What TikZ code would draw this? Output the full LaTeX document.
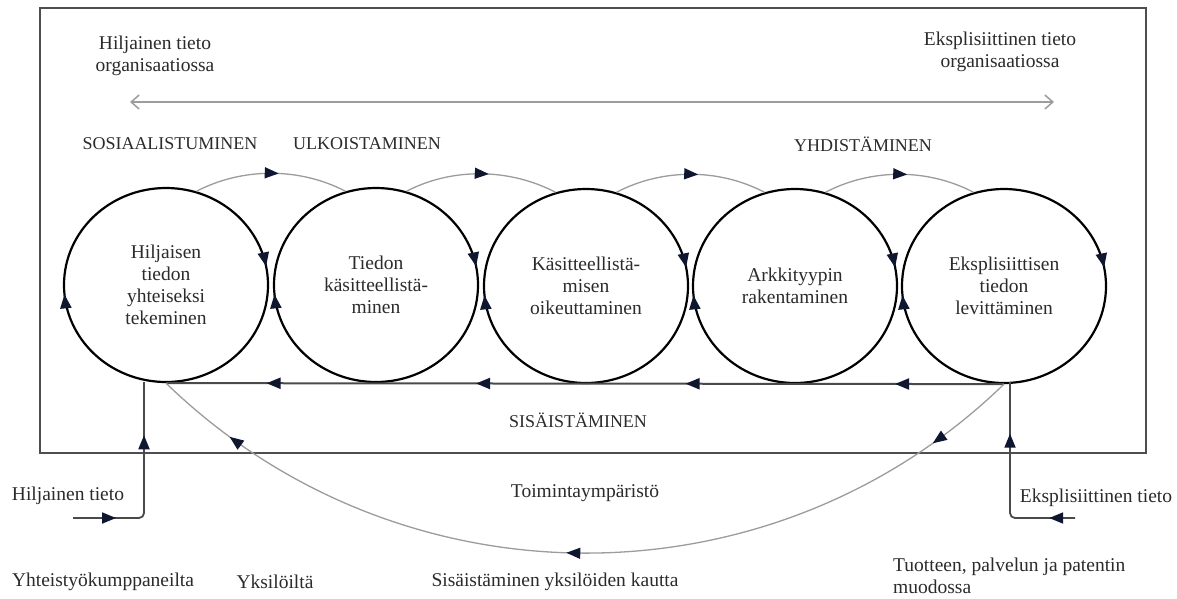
\documentclass[tikz,border=0pt]{standalone}
\usepackage{fontspec}
\setmainfont{Liberation Serif}
\usetikzlibrary{arrows.meta,shapes.geometric,decorations.markings,calc}

\definecolor{ink}{HTML}{2B2B2B}
\definecolor{tipc}{HTML}{0E1630}
\definecolor{framec}{HTML}{4E4E4E}
\definecolor{lightline}{HTML}{9C9C9C}
\definecolor{darkline}{HTML}{4A4A4A}

\tikzset{
  tipfill/.tip={Triangle[length=14pt,width=11pt,color=tipc]},
  txt/.style={text=ink,font=\fontsize{19.5}{22}\selectfont,align=center,inner sep=0pt},
  caps/.style={text=ink,font=\fontsize{18}{22}\selectfont,inner sep=0pt},
  % one phase of the knowledge spiral, turning clockwise
  phase/.style={ellipse,draw=black,line width=2.2pt,minimum width=204pt,
    minimum height=194pt,inner sep=0pt,txt,
    postaction={decorate,decoration={markings,
      mark=at position 0.030 with {\arrowreversed{tipfill}},
      mark=at position 0.515 with {\arrowreversed{tipfill}}}}},
  bridge/.style={draw=lightline,line width=1.3pt,
    postaction={decorate,decoration={markings,
      mark=at position 0.55 with {\arrow{tipfill}}}}},
  innerline/.style={draw=darkline,line width=2pt,
    postaction={decorate,decoration={markings,
      mark=at position 0.13 with {\arrow{tipfill}},
      mark=at position 0.38 with {\arrow{tipfill}},
      mark=at position 0.63 with {\arrow{tipfill}},
      mark=at position 0.88 with {\arrow{tipfill}}}}},
  outerloop/.style={draw=lightline,line width=1.3pt,
    postaction={decorate,decoration={markings,
      mark=at position 0.10 with {\arrow{tipfill}},
      mark=at position 0.52 with {\arrow{tipfill}},
      mark=at position 0.91 with {\arrow{tipfill}}}}},
  feed/.style={draw=darkline,line width=1.8pt,rounded corners=5pt,
    postaction={decorate,decoration={markings,
      mark=at position #1 with {\arrow{tipfill}},
      mark=at position 0.74 with {\arrow{tipfill}}}}},
}

\begin{document}
\begin{tikzpicture}[x=1pt,y=-1pt]
\useasboundingbox[fill=white] (0,0) rectangle (1177,598);

% organisation boundary
\draw[draw=framec,line width=2.2pt] (40,8) rectangle (1146,453);

% tacit <-> explicit axis
\coordinate (axl) at (130,102);
\coordinate (axr) at (1054,102);
\draw[draw=lightline,line width=1.5pt,
  {Straight Barb[length=8pt,width=14pt]}-{Straight Barb[length=8pt,width=14pt]}]
  (axl) -- (axr);

\node[txt] (tacit) at (155,56) {Hiljainen tieto\\organisaatiossa};
\node[txt] (explicit) at (1000,52) {Eksplisiittinen tieto\\organisaatiossa};

\node[caps] (soc) at (170,144) {SOSIAALISTUMINEN};
\node[caps] (ext) at (367,144) {ULKOISTAMINEN};
\node[caps] (comb) at (863,144) {YHDISTÄMINEN};

% the five phases
\node[phase] (c1) at (166,285) {Hiljaisen\\tiedon\\yhteiseksi\\tekeminen};
\node[phase] (c2) at (376,285) {Tiedon\\käsitteellistä-\\minen};
\node[phase] (c3) at (586,286) {Käsitteellistä-\\misen\\oikeuttaminen};
\node[phase] (c4) at (795,286) {Arkkityypin\\rakentaminen};
\node[phase] (c5) at (1004,286) {Eksplisiittisen\\tiedon\\levittäminen};

% transfers between phases
\draw[bridge] (c1.72) .. controls +(46,-24) and +(-46,-24) .. (c2.108);
\draw[bridge] (c2.72) .. controls +(46,-24) and +(-46,-24) .. (c3.108);
\draw[bridge] (c3.72) .. controls +(46,-24) and +(-46,-24) .. (c4.108);
\draw[bridge] (c4.72) .. controls +(46,-24) and +(-46,-24) .. (c5.108);

% internalisation back along the base
\draw[innerline] (c5.south) -- (c1.south);
\node[caps] (int) at (578,420) {SISÄISTÄMINEN};

% loop through the environment
\draw[outerloop] (c5.south) .. controls +(-233,226) and +(233,226) .. (c1.south);
\node[txt] (env) at (585,493) {Toimintaympäristö};
\node[txt] (indiv) at (555,582) {Sisäistäminen yksilöiden kautta};

% inputs from outside
\coordinate (hin) at (73,518);
\coordinate (hx) at (144,382);
\draw[feed=0.21] (hin) -| (hx);
\coordinate (ein) at (1075,518);
\coordinate (ex) at (1010,382);
\draw[feed=0.13] (ein) -| (ex);

\node[txt] (tacitin) at (68,496) {Hiljainen tieto};
\node[txt] (partners) at (103,582) {Yhteistyökumppaneilta};
\node[txt] (indivs) at (275,582) {Yksilöiltä};
\node[txt] (explin) at (1096,498) {Eksplisiittinen tieto};
\node[txt,align=left,anchor=north west] (forms) at (893,558)
  {Tuotteen, palvelun ja patentin\\muodossa};
\end{tikzpicture}
\end{document}
